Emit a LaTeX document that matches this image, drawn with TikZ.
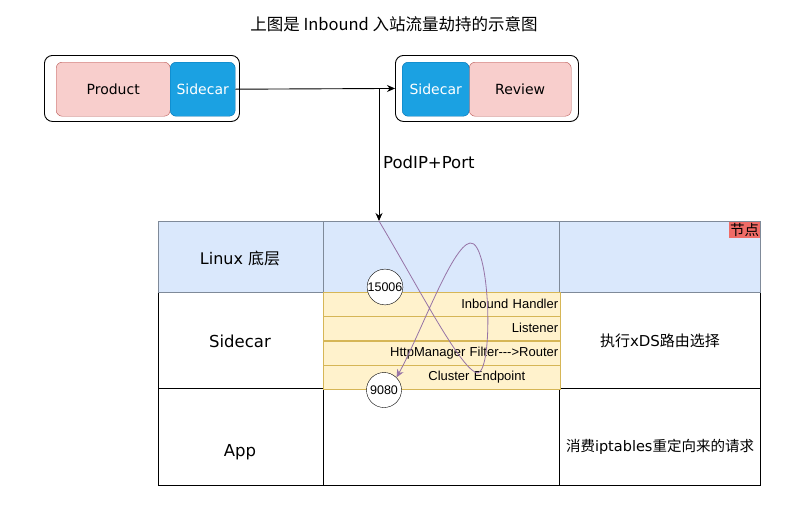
\documentclass[tikz,border=0pt]{standalone}
\usepackage{fontspec}
\setmainfont{DejaVu Sans}
\newfontfamily\cjk{Noto Sans CJK SC}
\newfontfamily\arial{Liberation Sans}
\usetikzlibrary{arrows.meta}
\definecolor{pinkfill}{HTML}{F8CECC}
\definecolor{pinkline}{HTML}{B85450}
\definecolor{bluefill}{HTML}{1BA1E2}
\definecolor{blueline}{HTML}{006EAF}
\definecolor{lightblue}{HTML}{DAE8FC}
\definecolor{rowgray}{HTML}{7F8A99}
\definecolor{yelfill}{HTML}{FFF2CC}
\definecolor{yelline}{HTML}{D6B656}
\definecolor{purp}{HTML}{9673A6}
\definecolor{redtag}{HTML}{F06B66}
\tikzset{
  outerbox/.style={draw=black, line width=0.9pt, rounded corners=8pt, fill=white, inner sep=0pt},
  pinkbox/.style={draw=pinkline, fill=pinkfill, rounded corners=6pt, inner sep=0pt, font=\fontsize{14}{16}\selectfont},
  bluebox/.style={draw=blueline, fill=bluefill, text=white, rounded corners=6pt, inner sep=0pt, font=\fontsize{14}{16}\selectfont},
  cellone/.style={draw=rowgray, fill=lightblue, anchor=north west, inner sep=0pt, line width=0.8pt},
  cell/.style={draw=black, fill=white, anchor=north west, inner sep=0pt, line width=0.8pt},
  yelbox/.style={draw=yelline, fill=yelfill, anchor=north west, inner ysep=0pt, inner xsep=2pt, text width=233pt, align=right, minimum height=24pt, font=\arial\fontsize{13}{15}\selectfont},
  portcircle/.style={circle, draw=black, fill=white, minimum size=35pt, inner sep=0pt, font=\arial\fontsize{12.5}{14}\selectfont},
  arr/.style={-{Stealth[length=8pt,width=7pt]}, line width=0.9pt, black},
  txt/.style={inner sep=0pt}
}
\begin{document}
\begin{tikzpicture}[x=1pt,y=-1pt]
\useasboundingbox (0,0) rectangle (805,509);
\fill[white] (0,0) rectangle (805,509);
% title
\node[txt, font=\cjk\fontsize{16.5}{18}\selectfont] (title) at (394,24) {上图是 Inbound 入站流量劫持的示意图};
% top left pod
\node[outerbox, anchor=north west, minimum width=195pt, minimum height=66pt] (podL) at (44,55) {};
\node[pinkbox, anchor=north west, minimum width=114pt, minimum height=54pt] (product) at (56,62) {Product};
\node[bluebox, anchor=north west, minimum width=65pt, minimum height=54pt] (sideL) at (170,62) {Sidecar};
% top right pod
\node[outerbox, anchor=north west, minimum width=183pt, minimum height=66pt] (podR) at (395,55) {};
\node[pinkbox, anchor=north west, minimum width=102pt, minimum height=54pt] (review) at (469,62) {Review};
\node[bluebox, anchor=north west, minimum width=67pt, minimum height=54pt] (sideR) at (402,62) {Sidecar};
% arrows
\draw[arr] (sideL.east) -- (podR.west);
\coordinate (vstart) at (379,89);
\coordinate (tip) at (379,221);
% table rows 3,2 then 1
\node[cell, minimum width=165pt, minimum height=97pt] (appA) at (158,388) {};
\node[cell, minimum width=236pt, minimum height=97pt] (appB) at (323,388) {};
\node[cell, minimum width=201pt, minimum height=97pt] (appC) at (559,388) {};
\node[cell, minimum width=165pt, minimum height=96pt] (scA) at (158,292) {};
\node[cell, minimum width=236pt, minimum height=96pt] (scB) at (323,292) {};
\node[cell, minimum width=201pt, minimum height=96pt] (scC) at (559,292) {};
\node[cellone, minimum width=165pt, minimum height=71pt] (lxA) at (158,221) {};
\node[cellone, minimum width=236pt, minimum height=71pt] (lxB) at (323,221) {};
\node[cellone, minimum width=201pt, minimum height=71pt] (lxC) at (559,221) {};
\draw[arr] (vstart) -- (tip);
\node[txt, anchor=west, font=\fontsize{16.5}{18}\selectfont] (podip) at (383,162) {PodIP+Port};
% labels
\node[txt, font=\fontsize{16}{18}\selectfont] (lxT) at (240,258) {Linux {\cjk 底层}};
\node[txt, font=\fontsize{16.5}{18}\selectfont] (scT) at (240,341) {Sidecar};
\node[txt, font=\fontsize{16.5}{18}\selectfont] (appT) at (240,452) {App};
\node[txt, font=\fontsize{15}{17}\selectfont] (xds) at (660,341) {{\cjk 执行}xDS{\cjk 路由选择}};
\node[txt, font=\fontsize{14.5}{16}\selectfont] (consume) at (660,447) {{\cjk 消费}iptables{\cjk 重定向来的请求}};
\node[fill=redtag, anchor=north east, inner xsep=1pt, inner ysep=1.5pt, font=\cjk\fontsize{14.5}{15}\selectfont] (tag) at (760.4,221.4) {节点};
% yellow boxes
\node[yelbox] (ih) at (323,292) {Inbound Handler};
\node[yelbox] (lis) at (323,316) {Listener};
\node[yelbox] (hm) at (323,341) {HttpManager Filter---{>}Router};
\node[yelbox] (ce) at (323,365) {Cluster Endpoint\rule{33pt}{0pt}};
% port circles
\node[portcircle] (p15006) at (385,287) {15006};
\node[portcircle] (p9080) at (384,390) {9080};
% purple path
\coordinate (low) at (478,373);
\coordinate (peak) at (470,243);
\draw[purp, line width=0.8pt, -{Stealth[length=8pt,width=7pt]}]
  (tip) .. controls (420,290) and (462,372) .. (low)
  .. controls (494,368) and (490,240) .. (peak)
  .. controls (452,246) and (420,335) .. (p9080.north east);
\end{tikzpicture}
\end{document}
